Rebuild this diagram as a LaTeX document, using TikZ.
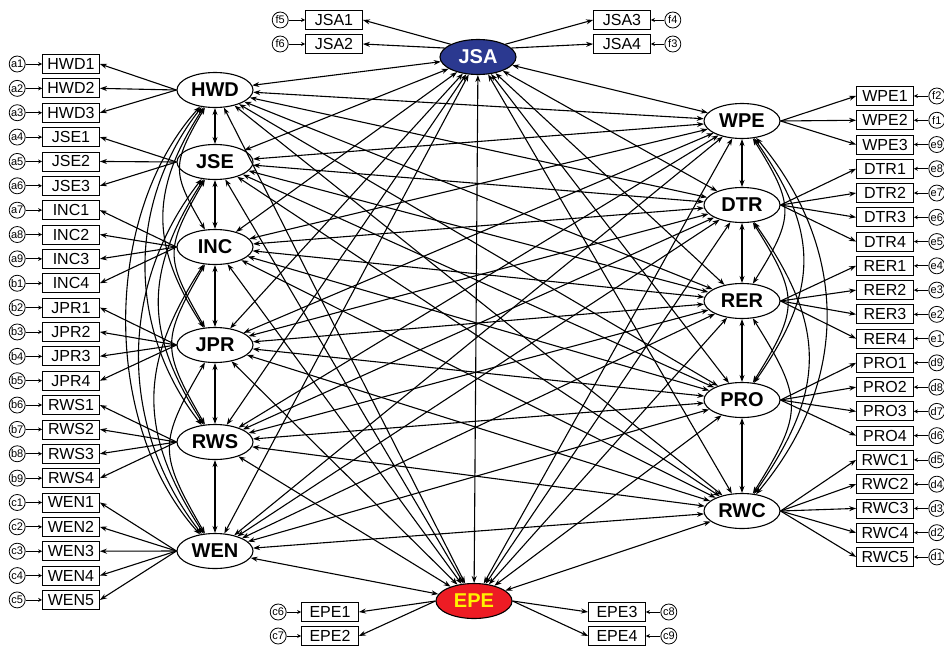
\documentclass[tikz,border=0pt]{standalone}
\usepackage{fontspec}
\setmainfont{Liberation Sans}
\usetikzlibrary{shapes.geometric,arrows.meta,positioning}
\definecolor{jsablue}{RGB}{43,57,144}
\definecolor{epered}{RGB}{237,28,36}
\definecolor{epeyellow}{RGB}{255,242,0}

\begin{document}
\begin{tikzpicture}[x=1pt,y=-1pt,>={Stealth[length=7pt,width=5pt]},line width=1.1pt,
    latent/.style={ellipse,draw,minimum width=76pt,minimum height=35pt,inner sep=0pt,font=\fontsize{20}{20}\selectfont\bfseries},
    item/.style={rectangle,draw,line width=0.8pt,minimum width=57pt,minimum height=19pt,inner sep=0pt,font=\fontsize{16}{16}\selectfont},
    err/.style={circle,draw,line width=0.8pt,minimum size=16pt,inner sep=0pt,font=\fontsize{11}{11}\selectfont},
    small/.style={-{Stealth[length=4pt,width=4pt]},line width=0.8pt}]

            \useasboundingbox (0,0) rectangle (944,648);

            % latent variables
            \node[latent, fill=jsablue, text=white]  (jsa) at (478,57) {JSA};
            \node[latent]  (hwd) at (215,90) {HWD};
            \node[latent]  (jse) at (215,162) {JSE};
            \node[latent]  (inc) at (215,247) {INC};
            \node[latent]  (jpr) at (215,345) {JPR};
            \node[latent]  (rws) at (215,442) {RWS};
            \node[latent]  (wen) at (215,551) {WEN};
            \node[latent]  (wpe) at (742,121) {WPE};
            \node[latent]  (dtr) at (742,205) {DTR};
            \node[latent]  (rer) at (742,301) {RER};
            \node[latent]  (pro) at (742,400) {PRO};
            \node[latent]  (rwc) at (742,511) {RWC};
            \node[latent, fill=epered, text=epeyellow]  (epe) at (474,601) {EPE};

            % left indicators
            \foreach \t/\e/\l [count=\i from 0] in {HWD1/a1/hwd, HWD2/a2/hwd, HWD3/a3/hwd, JSE1/a4/jse, JSE2/a5/jse, JSE3/a6/jse, INC1/a7/inc, INC2/a8/inc, INC3/a9/inc, INC4/b1/inc, JPR1/b2/jpr, JPR2/b3/jpr, JPR3/b4/jpr, JPR4/b5/jpr, RWS1/b6/rws, RWS2/b7/rws, RWS3/b8/rws, RWS4/b9/rws, WEN1/c1/wen, WEN2/c2/wen, WEN3/c3/wen, WEN4/c4/wen, WEN5/c5/wen}
            {
                \node[item] (\t) at (71,64+24.36*\i) {\t};
                \node[err] (\e) [left=16.5pt of \t] {\e};
                \draw[small] (\e) -- (\t);
                \draw[->] (\l.west) -- (\t.east);
            }

            % right indicators
            \foreach \t/\e/\l [count=\i from 0] in {WPE1/f2/wpe, WPE2/f1/wpe, WPE3/e9/wpe, DTR1/e8/dtr, DTR2/e7/dtr, DTR3/e6/dtr, DTR4/e5/dtr, RER1/e4/rer, RER2/e3/rer, RER3/e2/rer, RER4/e1/rer, PRO1/d9/pro, PRO2/d8/pro, PRO3/d7/pro, PRO4/d6/pro, RWC1/d5/rwc, RWC2/d4/rwc, RWC3/d3/rwc, RWC4/d2/rwc, RWC5/d1/rwc}
            {
                \node[item] (\t) at (885,96+24.26*\i) {\t};
                \node[err] (\e) [right=14.5pt of \t] {\e};
                \draw[small] (\e) -- (\t);
                \draw[->] (\l.east) -- (\t.west);
            }

            % JSA and EPE indicators
            \node[item] (JSA1) at (334,20) {JSA1};
            \node[item] (JSA2) at (334,44) {JSA2};
            \node[item] (JSA3) at (622,20) {JSA3};
            \node[item] (JSA4) at (622,44) {JSA4};
            \node[item] (EPE1) at (330,612) {EPE1};
            \node[item] (EPE2) at (330,636) {EPE2};
            \node[item] (EPE3) at (617,612) {EPE3};
            \node[item] (EPE4) at (617,636) {EPE4};
            \node[err] (f5) [left=16.5pt of JSA1] {f5};
            \node[err] (f6) [left=16.5pt of JSA2] {f6};
            \node[err] (f4) [right=13.5pt of JSA3] {f4};
            \node[err] (f3) [right=13.5pt of JSA4] {f3};
            \node[err] (c6) [left=14.5pt of EPE1] {c6};
            \node[err] (c7) [left=14.5pt of EPE2] {c7};
            \node[err] (c8) [right=14.5pt of EPE3] {c8};
            \node[err] (c9) [right=14.5pt of EPE4] {c9};

            \draw[small] (f5) -- (JSA1);
            \draw[small] (f6) -- (JSA2);
            \draw[small] (f4) -- (JSA3);
            \draw[small] (f3) -- (JSA4);
            \draw[small] (c6) -- (EPE1);
            \draw[small] (c7) -- (EPE2);
            \draw[small] (c8) -- (EPE3);
            \draw[small] (c9) -- (EPE4);
            \draw[->] (jsa.155) -- (JSA1.east);
            \draw[->] (jsa.165) -- (JSA2.east);
            \draw[->] (jsa.25) -- (JSA3.west);
            \draw[->] (jsa.15) -- (JSA4.west);
            \draw[->] (epe.west) -- (EPE1.east);
            \draw[->] (epe.west) -- (EPE2.east);
            \draw[->] (epe.east) -- (EPE3.west);
            \draw[->] (epe.east) -- (EPE4.west);

            % covariances
            \foreach \a/\b in {hwd/jse, jse/inc, inc/jpr, jpr/rws, rws/wen, wpe/dtr, dtr/rer, rer/pro, pro/rwc}
                \draw[<->] (\a) -- (\b);
            \foreach \a/\b/\ang/\loose in {hwd/inc/30/1.4, jse/jpr/30/1.4, inc/rws/30/1.4, jpr/wen/30/1.4, hwd/jpr/33/1.15, jse/rws/33/1.15, inc/wen/33/1.15, hwd/rws/38/0.98, jse/wen/38/0.98, hwd/wen/42/0.88}
                \draw[<->] (\a) to[bend right=\ang, looseness=\loose] (\b);
            \foreach \a/\b/\ang/\loose in {wpe/rer/32/1.4, dtr/pro/32/1.4, rer/rwc/32/1.4, wpe/pro/35/1.2, dtr/rwc/35/1.2, wpe/rwc/40/1.05}
                \draw[<->] (\a) to[bend left=\ang, looseness=\loose] (\b);
            \foreach \a in {hwd,jse,inc,jpr,rws,wen}
                \foreach \b in {wpe,dtr,rer,pro,rwc}
                    \draw[<->] (\a) -- (\b);
            \foreach \b in {hwd,jse,inc,jpr,rws,wen,wpe,dtr,rer,pro,rwc,epe}
                \draw[<->] (jsa) -- (\b);
            \foreach \b in {hwd,jse,inc,jpr,rws,wen,wpe,dtr,rer,pro,rwc}
                \draw[<->] (epe) -- (\b);

        \end{tikzpicture}
\end{document}
